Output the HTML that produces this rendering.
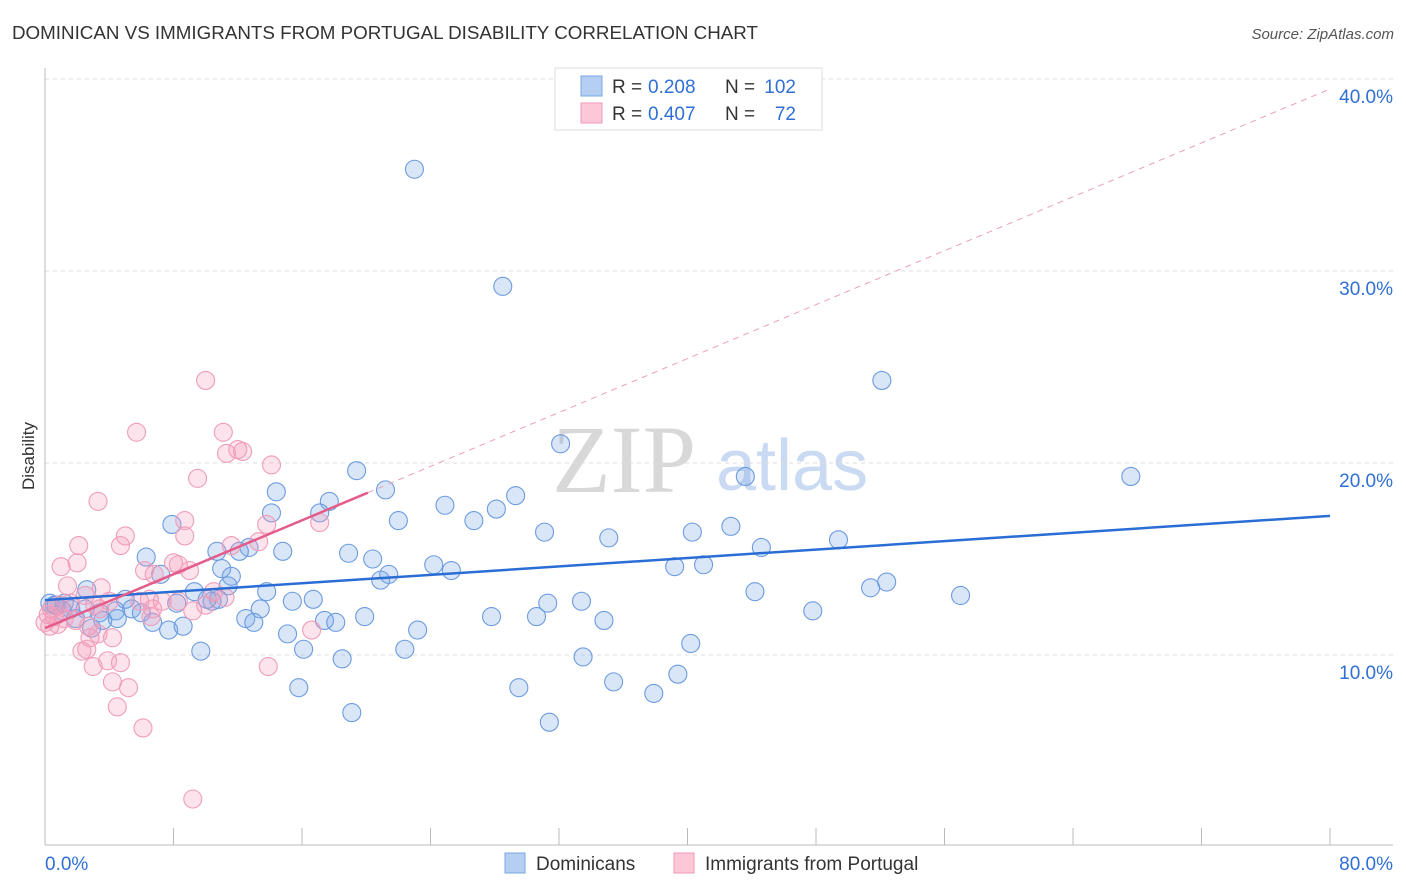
<!DOCTYPE html>
<html><head><meta charset="utf-8"><style>
body{margin:0;background:#fff;font-family:"Liberation Sans",sans-serif;}
#wrap{position:relative;width:1406px;height:892px;overflow:hidden;}
</style></head><body>
<div id="wrap">
<svg id="svg" width="1406" height="892" xmlns="http://www.w3.org/2000/svg">
<text x="12" y="39" font-size="18" fill="#333" textLength="746" lengthAdjust="spacingAndGlyphs">DOMINICAN VS IMMIGRANTS FROM PORTUGAL DISABILITY CORRELATION CHART</text>
<text x="1394" y="39" font-size="15" fill="#555" font-style="italic" text-anchor="end">Source: ZipAtlas.com</text>
<text x="34" y="456" font-size="17" fill="#333" text-anchor="middle" transform="rotate(-90 34 456)">Disability</text>
<g>
<text x="552" y="492" font-size="96" fill="#d8d8d8" font-family="Liberation Serif,serif">ZIP</text>
<text x="716" y="490" font-size="72" fill="#c9daf2">atlas</text>
</g>
<g id="grid"></g>
<g id="axes"></g>
<g id="pts"></g>
<g id="lines"></g>
<g>
<rect x="555" y="68" width="267" height="62" fill="#fff" stroke="#ddd"/>
<rect x="581" y="76" width="21" height="20" fill="#b5cff3" stroke="#7aa6e3"/>
<rect x="581" y="103" width="21" height="20" fill="#fcc8d8" stroke="#ef9ab5"/>
<g font-size="19" fill="#333">
<text x="612" y="93">R =</text><text x="648" y="93" fill="#2f6fd6">0.208</text><text x="725" y="93">N =</text><text x="796" y="93" fill="#2f6fd6" text-anchor="end">102</text>
</g>
<g font-size="19" fill="#333">
<text x="612" y="120">R =</text><text x="648" y="120" fill="#2f6fd6">0.407</text><text x="725" y="120">N =</text><text x="796" y="120" fill="#2f6fd6" text-anchor="end">72</text>
</g>
</g>
<g>
<rect x="505" y="853" width="20" height="20" fill="#b5cff3" stroke="#7aa6e3"/>
<text x="536" y="870" font-size="19" fill="#333">Dominicans</text>
<rect x="674" y="853" width="20" height="20" fill="#fcc8d8" stroke="#ef9ab5"/>
<text x="705" y="870" font-size="19" fill="#333">Immigrants from Portugal</text>
</g>
</svg>
</div>
<script>
const blueX=[23.0,28.5,52.1,67.6,32.1,43.6,19.4,21.2,14.4,17.7,29.3,24.9,28.1,17.1,14.1,26.7,22.0,42.7,31.1,40.3,7.9,35.1,49.4,12.7,44.6,12.1,10.7,18.9,14.8,6.3,20.4,24.2,39.2,41.0,25.3,11.0,7.2,21.4,20.9,11.6,52.4,51.4,44.2,13.8,11.4,9.3,57.0,10.1,10.8,10.4,15.4,16.7,33.4,31.3,47.8,13.4,8.2,5.0,5.4,6.0,4.4,3.4,4.5,3.6,2.5,1.6,1.1,0.6,0.3,12.5,13.0,17.4,18.1,19.9,27.8,30.6,34.8,6.7,7.7,8.6,2.9,15.1,23.2,40.2,16.1,9.7,22.4,18.5,33.5,35.4,15.8,29.5,37.9,39.4,19.1,31.4,2.6,1.2,0.7,1.9];
const blueY=[35.3,29.2,24.3,19.3,21.0,19.3,19.6,18.6,18.5,18.0,18.3,17.8,17.6,17.4,17.4,17.0,17.0,16.7,16.4,16.4,16.8,16.1,16.0,15.6,15.6,15.4,15.4,15.3,15.4,15.1,15.0,14.7,14.6,14.7,14.4,14.5,14.2,14.2,13.9,14.1,13.8,13.5,13.3,13.3,13.6,13.3,13.1,12.9,12.9,12.8,12.8,12.9,12.8,12.7,12.3,12.4,12.7,12.9,12.4,12.2,12.3,12.2,11.9,11.8,12.4,12.4,12.3,12.6,12.7,11.9,11.7,11.8,11.7,12.0,12.0,12.0,11.8,11.7,11.3,11.5,11.4,11.1,11.3,10.6,10.3,10.2,10.3,9.8,9.9,8.6,8.3,8.3,8.0,9.0,7.0,6.5,13.4,12.7,12.6,11.9];
const pinkX=[10.0,5.7,11.1,12.0,11.3,12.3,14.1,9.5,3.3,8.7,17.1,13.8,5.0,8.7,2.1,4.7,13.3,11.6,1.0,2.0,8.0,8.3,6.2,6.8,9.0,1.4,3.5,10.5,2.5,6.5,7.3,8.3,5.9,11.2,3.1,4.0,1.6,0.9,0.4,0.2,0.6,1.2,1.9,0.0,0.3,0.8,2.7,6.6,9.2,4.2,2.8,3.3,16.6,2.3,2.6,3.9,4.7,3.0,4.2,5.2,4.5,6.1,13.9,9.2,6.7,10.0,3.4];
const pinkY=[24.3,21.6,21.6,20.7,20.5,20.6,19.9,19.2,18.0,17.0,16.9,16.8,16.2,16.2,15.7,15.7,15.9,15.7,14.6,14.8,14.8,14.7,14.4,14.2,14.4,13.6,13.5,13.3,13.1,12.9,12.8,12.8,12.8,13.0,12.6,12.8,12.7,12.6,12.4,12.1,12.0,11.9,11.8,11.7,11.5,11.6,11.5,12.0,12.3,10.9,10.9,11.1,11.3,10.2,10.3,9.7,9.6,9.4,8.6,8.3,7.3,6.2,9.4,2.5,12.4,12.6,12.4];
const blueTrend=[12.86,0.0548];
const pinkTrend=[11.4,0.351];
const pinkSolidEnd=20.1;
const yTicks=[10,20,30,40];
const xTicks=[0,8,16,24,32,40,48,56,64,72,80];
const NS="http://www.w3.org/2000/svg";
const sx=v=>45+v*(1285/80);
const sy=v=>847-v*19.2;
function mk(tag,attrs,parent){const e=document.createElementNS(NS,tag);for(const k in attrs)e.setAttribute(k,attrs[k]);parent.appendChild(e);return e;}
const grid=document.getElementById('grid'),axes=document.getElementById('axes'),pts=document.getElementById('pts'),lines=document.getElementById('lines');
yTicks.forEach(t=>{
 const l=mk('line',{x1:45,x2:1393,y1:sy(t),y2:sy(t),stroke:'#ddd','stroke-dasharray':'4,4'},grid);
 
 
 const tx=mk('text',{x:1393,y:sy(t)+24,'font-size':19,fill:'#2f6fd6','text-anchor':'end'},axes);
 tx.textContent=t.toFixed(1)+'%';
 
 
});
const ax=mk('line',{x1:45,x2:45,y1:68,y2:845,stroke:'#bbb'},axes);


const bx=mk('line',{x1:45,x2:1393,y1:845,y2:845,stroke:'#bbb'},axes);


xTicks.forEach(t=>{
 if(t===0)return;
 const l=mk('line',{x1:sx(t),x2:sx(t),y1:828,y2:845,stroke:'#bbb'},axes);
 
 
});
[[0,'start'],[80,'end']].forEach(([t,a])=>{
 const tx=mk('text',{x:t===0?45:1393,y:870,'font-size':19,fill:'#2f6fd6','text-anchor':a},axes);
 tx.textContent=t.toFixed(1)+'%';
 
 
});
blueX.forEach((x,i)=>{
 const c=mk('circle',{cx:sx(x),cy:sy(blueY[i]),r:9,fill:'rgba(120,165,230,0.28)',stroke:'#6b9be0','stroke-width':1.1},pts);
 
 
});
pinkX.forEach((x,i)=>{
 const c=mk('circle',{cx:sx(x),cy:sy(pinkY[i]),r:9,fill:'rgba(245,155,185,0.28)',stroke:'#ef9db8','stroke-width':1.1},pts);
 
 
});
const bl=mk('line',{x1:sx(0),y1:sy(blueTrend[0]),x2:sx(80),y2:sy(blueTrend[0]+blueTrend[1]*80),stroke:'#2a6dd5','stroke-width':2.5},lines);


const pl=mk('line',{x1:sx(0),y1:sy(pinkTrend[0]),x2:sx(pinkSolidEnd),y2:sy(pinkTrend[0]+pinkTrend[1]*pinkSolidEnd),stroke:'#e45c89','stroke-width':2.5},lines);


const pd=mk('line',{x1:sx(pinkSolidEnd),y1:sy(pinkTrend[0]+pinkTrend[1]*pinkSolidEnd),x2:sx(80),y2:sy(pinkTrend[0]+pinkTrend[1]*80),stroke:'#eba0b8','stroke-width':1,'stroke-dasharray':'6,5'},lines);


</script>
</body></html>
